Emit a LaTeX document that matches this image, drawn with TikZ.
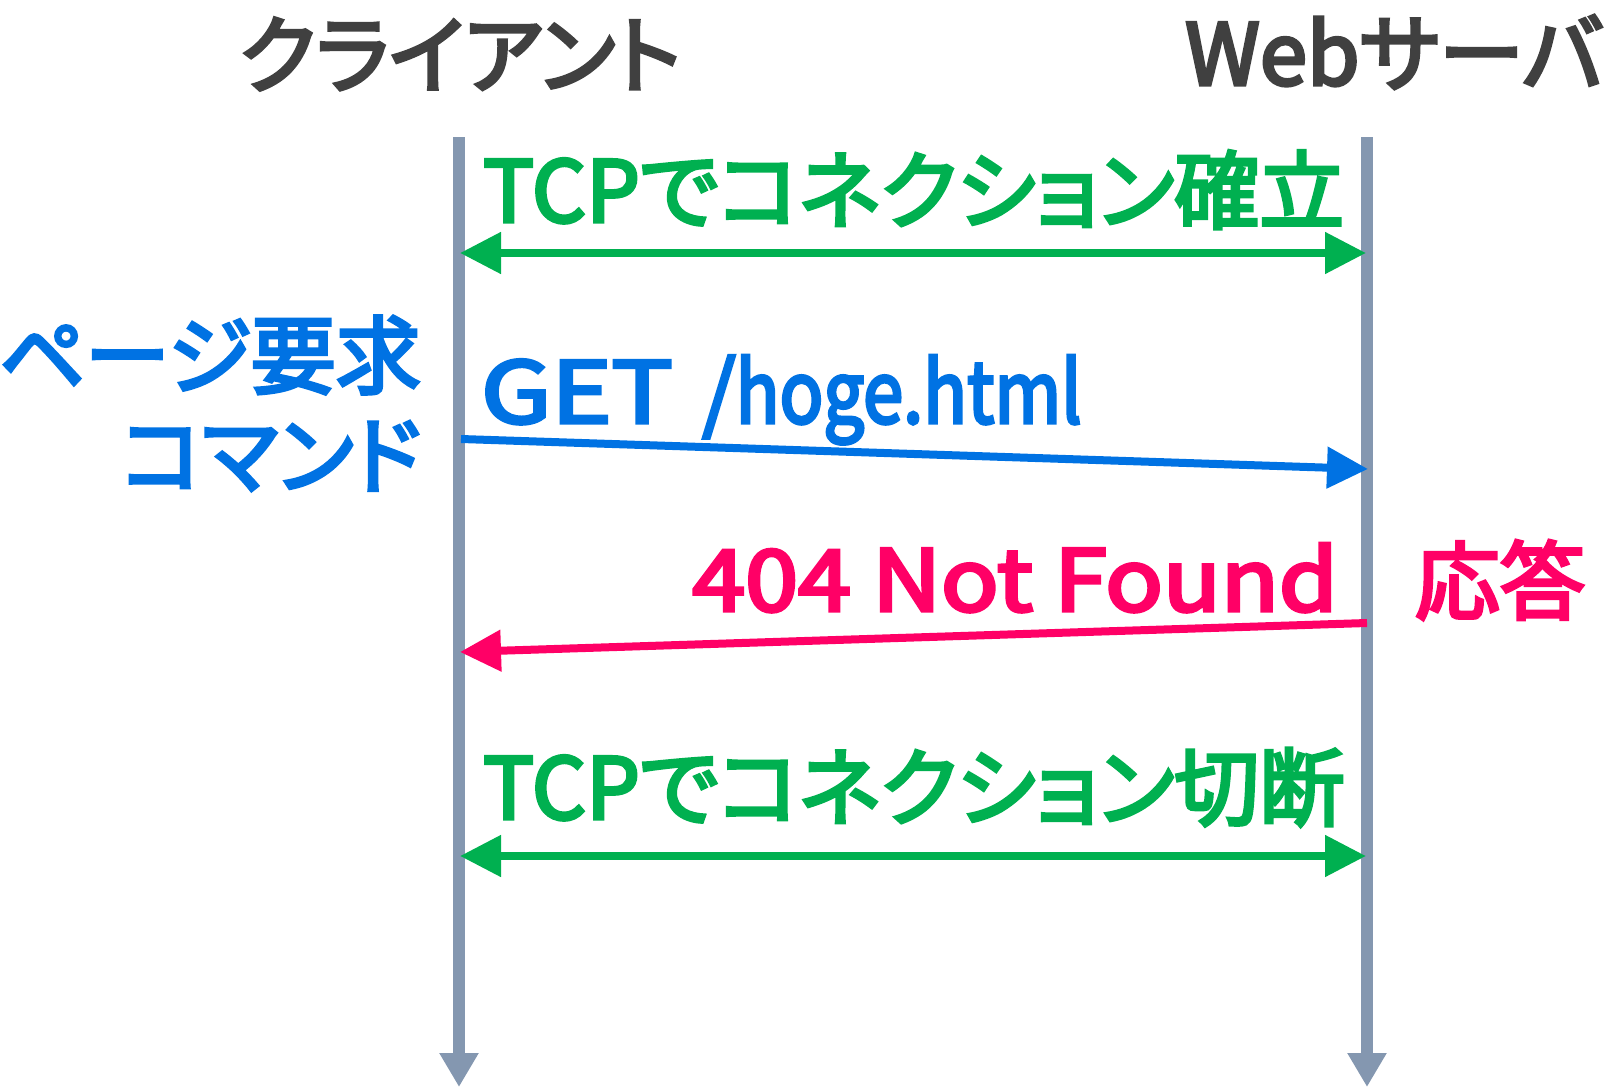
\documentclass[tikz,border=0pt]{standalone}
\usepackage{fontspec}
\usetikzlibrary{arrows.meta}
\newfontfamily\jp[RawFeature={+palt}, FakeBold=4]{Noto Sans CJK JP}
\definecolor{lifegray}{HTML}{8497B0}
\definecolor{tcpgreen}{HTML}{00B050}
\definecolor{reqblue}{HTML}{0072E3}
\definecolor{resppink}{HTML}{FF0066}
\definecolor{titlegray}{HTML}{404040}
\tikzset{
  lbl/.style={inner sep=0pt, font=\jp\fontsize{85}{96}\selectfont},
  lifeline/.style={draw=lifegray, line width=12pt, -{Triangle[length=34pt,width=37pt]}},
  msg/.style={line width=8pt, -{Triangle[length=41pt,width=40pt]}},
  bimsg/.style={line width=8pt, {Triangle[length=41pt,width=40pt]}-{Triangle[length=41pt,width=40pt]}},
}
\begin{document}
\begin{tikzpicture}[x=1pt,y=-1pt]
\useasboundingbox (0,0) rectangle (1619,1087);
% lifelines
\coordinate (ctop) at (459,137);
\coordinate (cbot) at (459,1087);
\coordinate (stop) at (1367,137);
\coordinate (sbot) at (1367,1087);
\draw[lifeline] (ctop) -- (cbot);
\draw[lifeline] (stop) -- (sbot);
% titles
\node[lbl, text=titlegray] (client) at (460,54) {クライアント};
\node[lbl, text=titlegray] (server) at (1394,52) {Webサーバ};
% TCP open
\node[lbl, text=tcpgreen, anchor=base west] (open) at (483,222) {TCPでコネクション確立};
\coordinate (o1) at (460,253);
\coordinate (o2) at (1366,253);
\draw[bimsg, tcpgreen] (o1) -- (o2);
% request
\node[lbl, text=reqblue, anchor=east] (req1) at (421,355) {ページ要求};
\node[lbl, text=reqblue, anchor=east] (req2) at (421,456) {コマンド};
\node[lbl, text=reqblue, anchor=base west] (get) at (481,423) {\scalebox{1.2}[1]{GET}\hspace{0.35em}/\scalebox{0.85}[1]{hoge.html}};
\coordinate (g1) at (461,439);
\coordinate (g2) at (1368,469);
\draw[msg, reqblue] (g1) -- (g2);
% response
\node[lbl, text=resppink, anchor=base east] (nf) at (1338,611) {\scalebox{1.12}[1]{404 Not Found}};
\node[lbl, text=resppink] (resp) at (1500,580) {応答};
\coordinate (r1) at (1367,623);
\coordinate (r2) at (460,652);
\draw[msg, resppink] (r1) -- (r2);
% TCP close
\node[lbl, text=tcpgreen, anchor=base west] (close) at (483,819) {TCPでコネクション切断};
\coordinate (c1) at (460,856);
\coordinate (c2) at (1366,856);
\draw[bimsg, tcpgreen] (c1) -- (c2);
\end{tikzpicture}
\end{document}
